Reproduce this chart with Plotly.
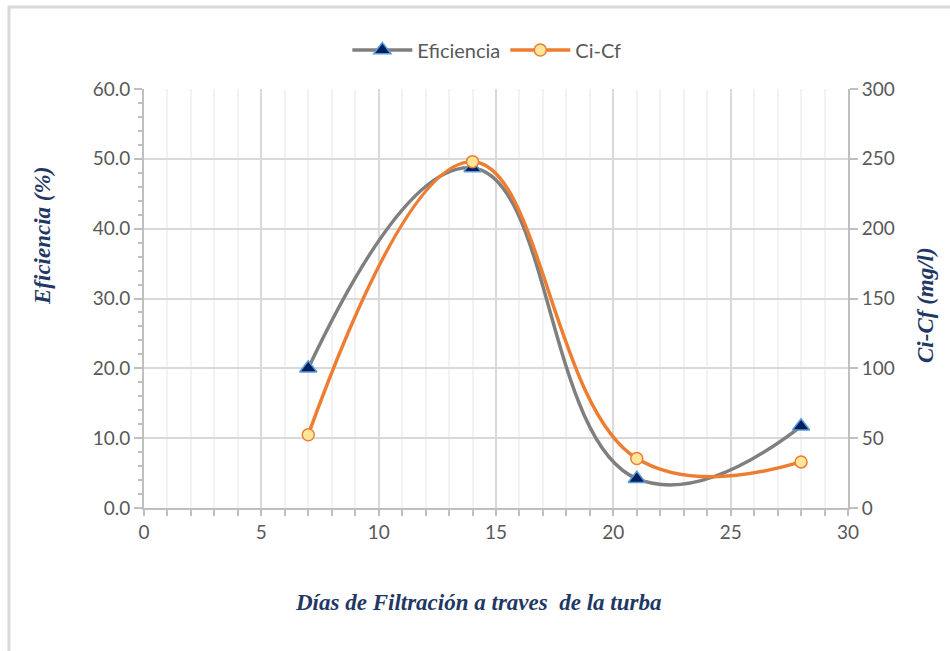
import plotly.graph_objects as go

dias = [7, 14, 21, 28]
eficiencia = [20.0, 48.7, 4.2, 11.7]
ci_cf = [52.5, 248.0, 35.5, 33.0]

x_ticks = [0, 5, 10, 15, 20, 25, 30]
y1_ticks = [0, 10, 20, 30, 40, 50, 60]
y1_labels = ["0.0", "10.0", "20.0", "30.0", "40.0", "50.0", "60.0"]
y2_ticks = [0, 50, 100, 150, 200, 250, 300]

tick_font = dict(family="Lato", size=19, color="#595959")
title_font = dict(family="Times New Roman, Liberation Serif, serif", size=23, color="#1F3864")

fig = go.Figure()
fig.add_trace(go.Scatter(
    x=dias, y=eficiencia, name="Eficiencia", mode="lines+markers",
    line=dict(color="#7F7F7F", width=3.5, shape="spline", smoothing=1.3),
    marker=dict(symbol="triangle-up", size=15, color="#002060",
                line=dict(color="#5B9BD5", width=1.5)),
    yaxis="y"))
fig.add_trace(go.Scatter(
    x=dias, y=ci_cf, name="Ci-Cf", mode="lines+markers",
    line=dict(color="#ED7D31", width=3.5, shape="spline", smoothing=1.2),
    marker=dict(symbol="circle", size=12, color="#FFE699",
                line=dict(color="#ED7D31", width=1.5)),
    yaxis="y2"))

fig.update_layout(
    width=950, height=651,
    margin=dict(l=144, r=102, t=89, b=143),
    paper_bgcolor="white", plot_bgcolor="white",
    showlegend=True,
    legend=dict(orientation="h", x=0.487, xanchor="center", y=1.093, yanchor="middle",
                font=dict(family="Lato", size=20, color="#595959"),
                itemwidth=60, tracegroupgap=0),
    xaxis=dict(range=[0, 30], tickvals=x_ticks, ticktext=[str(v) for v in x_ticks],
               tickfont=tick_font, showgrid=True, gridcolor="#D9D9D9", gridwidth=2,
               showline=True, linecolor="#BFBFBF", linewidth=2,
               ticks="outside", ticklen=6, tickcolor="#BFBFBF", tickwidth=2,
               minor=dict(dtick=1, showgrid=True, gridcolor="#F2F2F2", gridwidth=2,
                          ticks="outside", ticklen=6, tickcolor="#BFBFBF", tickwidth=2),
               zeroline=False),
    yaxis=dict(range=[0, 60], tickvals=y1_ticks, ticktext=y1_labels,
               tickfont=tick_font, showgrid=True, gridcolor="#D9D9D9", gridwidth=2,
               showline=True, linecolor="#BFBFBF", linewidth=2,
               ticks="outside", ticklen=8, tickcolor="#BFBFBF", tickwidth=2,
               minor=dict(dtick=2, ticks="outside", ticklen=4, tickcolor="#BFBFBF",
                          tickwidth=2, showgrid=False),
               zeroline=False),
    yaxis2=dict(range=[0, 300], tickvals=y2_ticks, ticktext=[str(v) for v in y2_ticks],
                tickfont=tick_font, overlaying="y", side="right", showgrid=False,
                showline=True, linecolor="#BFBFBF", linewidth=2,
                ticks="outside", ticklen=8, tickcolor="#BFBFBF", tickwidth=2,
                zeroline=False),
)

fig.add_annotation(text="<b><i>Eficiencia (%)</i></b>", xref="paper", yref="paper",
                   x=(43 - 144) / 704, y=(508 - 236) / 419, textangle=-90,
                   showarrow=False, font=title_font, xanchor="center", yanchor="middle")
fig.add_annotation(text="<b><i>Ci-Cf (mg/l)</i></b>", xref="paper", yref="paper",
                   x=(925 - 144) / 704, y=(508 - 305) / 419, textangle=-90,
                   showarrow=False, font=title_font, xanchor="center", yanchor="middle")
fig.add_annotation(text="<b><i>Días de Filtración a traves  de la turba</i></b>",
                   xref="paper", yref="paper",
                   x=(478 - 144) / 704, y=(508 - 602) / 419,
                   showarrow=False, font=title_font, xanchor="center", yanchor="middle")

fig.add_shape(type="rect", xref="paper", yref="paper",
              x0=(9 - 144) / 704, x1=(1000 - 144) / 704,
              y0=(508 - 700) / 419, y1=(508 - 7) / 419,
              line=dict(color="#D9D9D9", width=3), fillcolor="rgba(0,0,0,0)", layer="below")

fig.write_html("out.html")
